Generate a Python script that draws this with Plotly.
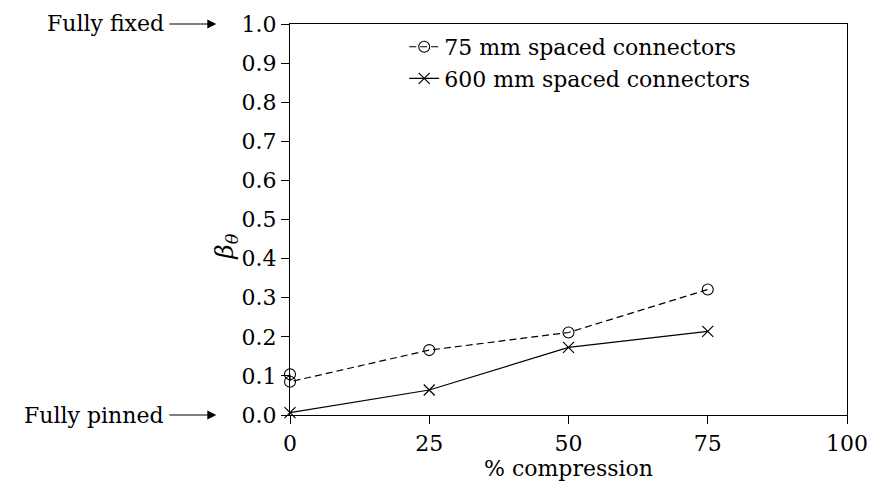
import plotly.graph_objects as go

# % compression and rotational restraint coefficient for each connector spacing
x_75 = [0, 0, 25, 50, 75]
beta_75 = [0.104, 0.085, 0.166, 0.211, 0.321]

x_600 = [0, 25, 50, 75]
beta_600 = [0.006, 0.064, 0.173, 0.214]

x_ticks = [0, 25, 50, 75, 100]
y_ticks = [0.0, 0.1, 0.2, 0.3, 0.4, 0.5, 0.6, 0.7, 0.8, 0.9, 1.0]

FONT = "DejaVu Serif"
FS = 22
TEXT = dict(family=FONT, size=FS, color="black")

fig = go.Figure()
fig.add_trace(go.Scatter(
    x=x_75, y=beta_75, mode="lines+markers",
    name="75 mm spaced connectors",
    line=dict(color="black", width=1.2, dash="7px,4px"),
    marker=dict(symbol="circle-open", size=11, color="black", line=dict(width=1.1)),
    cliponaxis=False,
))
fig.add_trace(go.Scatter(
    x=x_600, y=beta_600, mode="lines+markers",
    name="600 mm spaced connectors",
    line=dict(color="black", width=1.2),
    marker=dict(symbol="x-thin-open", size=11, color="black", line=dict(width=1.2)),
    cliponaxis=False,
))

axis_common = dict(
    showline=True, linecolor="black", linewidth=1.3, mirror=True,
    ticks="outside", ticklen=8, tickcolor="black", tickwidth=1,
    showgrid=False, zeroline=False,
    tickfont=TEXT,
)

fig.update_xaxes(
    range=[0, 100], tickvals=x_ticks, ticktext=[str(v) for v in x_ticks],
    title=dict(text="% compression", font=TEXT, standoff=2),
    **axis_common,
)
fig.update_yaxes(
    range=[0, 1], tickvals=y_ticks, ticktext=[f"{v:.1f}" for v in y_ticks],
    **axis_common,
)

# y-axis label
fig.add_annotation(
    text="<i>β<sub>θ</sub></i>", xref="paper", yref="paper",
    x=-0.115, y=0.43, xanchor="center", yanchor="middle",
    showarrow=False, textangle=-90,
    font=dict(family=FONT, size=25, color="black"),
)

# boundary condition labels: text right-aligned at the arrow tail, arrow to the tick
for label, yv in [("Fully fixed", 1.0), ("Fully pinned", 0.0)]:
    fig.add_annotation(
        text=label, xref="paper", yref="y", x=-0.1323, y=yv,
        ax=-50, ay=0, axref="pixel", ayref="pixel",
        xanchor="right", yanchor="middle",
        showarrow=True, arrowhead=2, arrowsize=1.5, arrowwidth=1.2,
        arrowcolor="black", standoff=0, startstandoff=3,
        font=TEXT,
    )

fig.update_layout(
    width=880, height=493,
    margin=dict(l=290, r=23, t=22, b=78),
    paper_bgcolor="white", plot_bgcolor="white",
    font=TEXT,
    showlegend=True,
    legend=dict(
        x=0.205, y=0.995, xanchor="left", yanchor="top",
        bgcolor="rgba(0,0,0,0)", borderwidth=0,
        font=TEXT,
        itemwidth=30, tracegroupgap=0,
    ),
)

fig.write_html("out.html")
